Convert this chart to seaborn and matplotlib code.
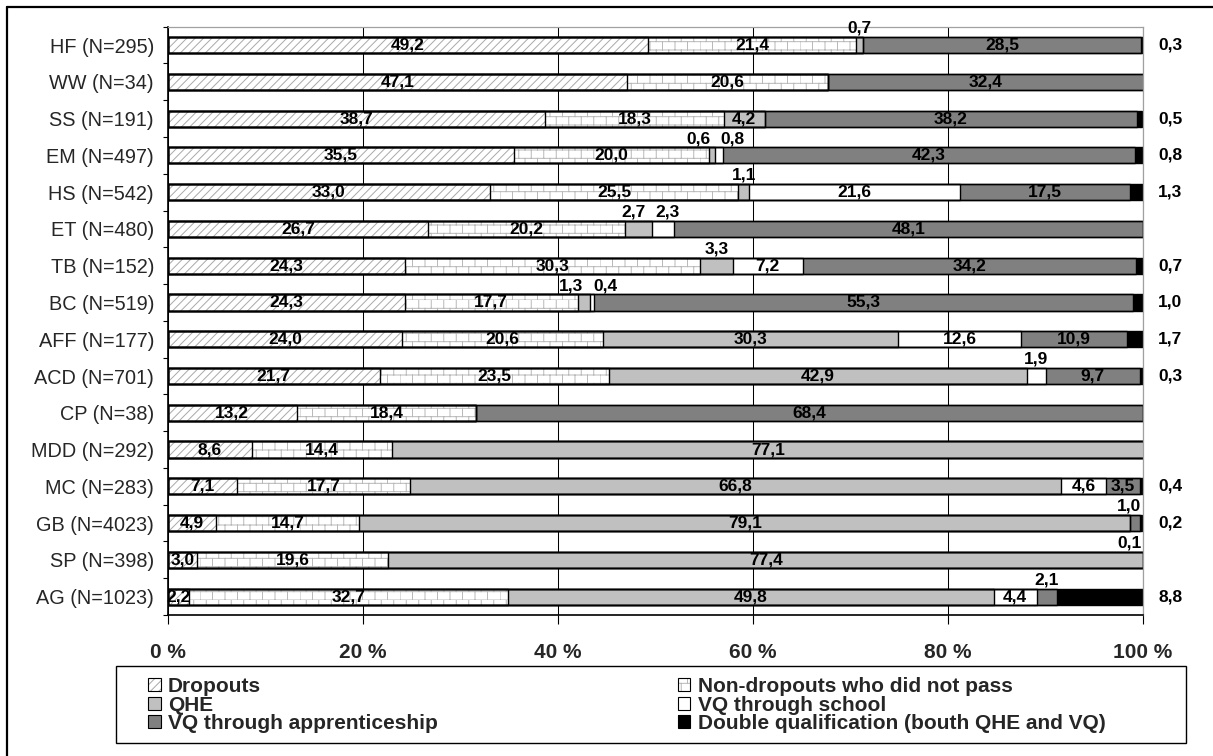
import numpy as np
import pandas as pd
import matplotlib
matplotlib.use("Agg")
import matplotlib.pyplot as plt
import matplotlib.hatch as mhatch
import matplotlib.transforms as mtransforms
from matplotlib.path import Path
from matplotlib.patches import Patch, Rectangle
from matplotlib.lines import Line2D
import seaborn as sns

# ---------------------------------------------------------------- data
groups = ["HF (N=295)", "WW (N=34)", "SS (N=191)", "EM (N=497)", "HS (N=542)",
          "ET (N=480)", "TB (N=152)", "BC (N=519)", "AFF (N=177)", "ACD (N=701)",
          "CP (N=38)", "MDD (N=292)", "MC (N=283)", "GB (N=4023)", "SP (N=398)",
          "AG (N=1023)"]

dropouts      = [49.2, 47.1, 38.7, 35.5, 33.0, 26.7, 24.3, 24.3, 24.0, 21.7, 13.2, 8.6, 7.1, 4.9, 3.0, 2.2]
not_passed    = [21.4, 20.6, 18.3, 20.0, 25.5, 20.2, 30.3, 17.7, 20.6, 23.5, 18.4, 14.4, 17.7, 14.7, 19.6, 32.7]
qhe           = [0.7, 0.0, 4.2, 0.6, 1.1, 2.7, 3.3, 1.3, 30.3, 42.9, 0.0, 77.1, 66.8, 79.1, 77.4, 49.8]
vq_school     = [0.0, 0.0, 0.0, 0.8, 21.6, 2.3, 7.2, 0.4, 12.6, 1.9, 0.0, 0.0, 4.6, 0.0, 0.0, 4.4]
vq_apprentice = [28.5, 32.4, 38.2, 42.3, 17.5, 48.1, 34.2, 55.3, 10.9, 9.7, 68.4, 0.0, 3.5, 1.0, 0.1, 2.1]
double_qual   = [0.3, 0.0, 0.5, 0.8, 1.3, 0.0, 0.7, 1.0, 1.7, 0.3, 0.0, 0.0, 0.4, 0.2, 0.0, 8.8]

series_names = ["Dropouts", "Non-dropouts who did not pass", "QHE", "VQ through school",
                "VQ through apprenticeship", "Double qualification (bouth QHE and VQ)"]
x_ticks = [0, 20, 40, 60, 80, 100]


# ------------------------------------------------- running-bond brick hatch
class BrickHatch(mhatch.HatchPatternBase):
    """Brick wall hatch, selected with the '*' hatch character."""

    def __init__(self, hatch, density):
        n = hatch.count('*')
        self.rows = 12 * n
        self.cols = 8
        self.num_vertices = 2 * self.rows * (self.cols + 1)

    def set_vertices_and_codes(self, vertices, codes):
        k = 0
        for i in range(self.rows):
            y0 = i / self.rows
            y1 = (i + 1) / self.rows
            vertices[k] = (0.0, y0)
            vertices[k + 1] = (1.0, y0)
            k += 2
            off = 0.5 / self.cols if i % 2 else 0.0
            for j in range(self.cols):
                x = j / self.cols + off
                vertices[k] = (x, y0)
                vertices[k + 1] = (x, y1)
                k += 2
        codes[0::2] = Path.MOVETO
        codes[1::2] = Path.LINETO


mhatch._hatch_types = [t for t in mhatch._hatch_types if t is not mhatch.Stars] + [BrickHatch]

# ---------------------------------------------------------------- style
sns.set_theme(style="white")
plt.rcParams["font.family"] = ["Liberation Sans", "DejaVu Sans"]
plt.rcParams["hatch.linewidth"] = 0.7

W, H = 1213, 756
fig = plt.figure(figsize=(W / 100, H / 100), dpi=100)
fig.patch.set_facecolor("white")
ax = fig.add_axes([168 / W, 1 - 615 / H, (1143 - 168) / W, (615 - 26.7) / H])

BAR_W = 0.44
HATCH_GREY = "#a9a9a9"
styles = [  # facecolor, hatch, hatch colour
    ("white", "////", HATCH_GREY),
    ("white", "*", "#b8b8b8"),
    ("#c0c0c0", None, "#c0c0c0"),
    ("white", None, "white"),
    ("#808080", None, "#808080"),
    ("black", None, "black"),
]

layers = np.array([dropouts, not_passed, qhe, vq_school, vq_apprentice, double_qual])
cum = np.cumsum(layers, axis=0)
df = pd.DataFrame({"group": groups})

# filled segments: cumulative bars, longest first, so each shorter one covers the rest
for k in reversed(range(len(layers))):
    face, hatch, hcol = styles[k]
    df["end"] = cum[k]
    sns.barplot(data=df, x="end", y="group", orient="h", color=face, saturation=1,
                width=BAR_W, errorbar=None, ax=ax)
    for bar in ax.containers[-1]:
        bar.set_facecolor(face)
        bar.set_hatch(hatch)
        bar.set_edgecolor(hcol)
        bar.set_linewidth(0)

# black outlines of every segment
for k in range(len(layers)):
    df["end"] = cum[k]
    sns.barplot(data=df, x="end", y="group", orient="h", color="black", fill=False,
                width=BAR_W, errorbar=None, linewidth=1.0, ax=ax)

# ---------------------------------------------------------------- value labels
lab_kw = dict(fontsize=12.5, fontweight="bold", color="black", zorder=5)
right_tf = mtransforms.blended_transform_factory(ax.transAxes, ax.transData)


def fmt(v):
    return f"{v:.1f}".replace(".", ",")


for i in range(len(groups)):
    above = []
    for k in range(len(layers)):
        v = layers[k][i]
        if v <= 0:
            continue
        mid = cum[k][i] - v / 2
        if k == 5:
            ax.text(1.0154, i, fmt(v), transform=right_tf, ha="left", va="center", **lab_kw)
        elif k >= 2 and v < 3.4:
            above.append([mid, fmt(v)])
        else:
            ax.text(mid, i, fmt(v), ha="center", va="center", **lab_kw)
    for a, b in zip(above, above[1:]):
        if b[0] - a[0] < 3.4:
            c = (a[0] + b[0]) / 2
            a[0], b[0] = c - 1.75, c + 1.75
    for x, t in above:
        ax.text(min(x, 98.6), i - BAR_W / 2 - 0.03, t, ha="center", va="bottom", **lab_kw)

# ---------------------------------------------------------------- axes
ax.set_xlim(0, 100)
ax.set_ylim(len(groups) - 0.5, -0.5)
ax.set_xlabel("")
ax.set_ylabel("")
ax.set_xticks(x_ticks, labels=[f"{t} %" for t in x_ticks])
for lab in ax.get_xticklabels():
    lab.set_fontweight("bold")
    lab.set_fontsize(15)
ax.tick_params(axis="x", direction="out", length=6.5, width=0.8, color="black",
               pad=14, bottom=True)
ax.set_yticks(range(len(groups)), labels=groups)
ax.set_yticks(np.arange(-0.5, len(groups), 1.0), minor=True)
ax.tick_params(axis="y", which="major", length=0, labelsize=14.3, pad=10, left=False)
ax.tick_params(axis="y", which="minor", direction="out", length=3.6, width=0.8,
               color="black", left=True)

ax.grid(axis="x", color="black", linewidth=0.75)
ax.grid(axis="y", visible=False)
ax.set_axisbelow(True)
for side in ("left", "bottom"):
    ax.spines[side].set_color("black")
    ax.spines[side].set_linewidth(1.2)
for side in ("right", "top"):
    ax.spines[side].set_color("#a0a0a0")
    ax.spines[side].set_linewidth(0.9)

# ---------------------------------------------------------------- legend
def handle(k):
    face, hatch, hcol = styles[k]
    return (Patch(facecolor=face, edgecolor=hcol, hatch=hatch, linewidth=0),
            Patch(facecolor="none", edgecolor="black", linewidth=0.8))


leg_kw = dict(loc="upper left", frameon=False, borderpad=0, borderaxespad=0,
              handlelength=0.6, handleheight=0.6, handletextpad=0.35,
              labelspacing=-0.02, prop=dict(weight="bold", size=15),
              bbox_transform=fig.transFigure)
fig.legend([handle(k) for k in (0, 2, 4)], [series_names[k] for k in (0, 2, 4)],
           bbox_to_anchor=(148 / W, 1 - 677 / H), **leg_kw)
fig.legend([handle(k) for k in (1, 3, 5)], [series_names[k] for k in (1, 3, 5)],
           bbox_to_anchor=(678 / W, 1 - 677 / H), **leg_kw)
fig.add_artist(Rectangle((116 / W, 1 - 743 / H), 1070 / W, 77 / H, transform=fig.transFigure,
                         fill=False, edgecolor="black", linewidth=1.0))

# outer frame
fig.add_artist(Line2D([7 / W, 1], [1 - 7 / H, 1 - 7 / H], transform=fig.transFigure,
                      color="black", linewidth=1.6))
fig.add_artist(Line2D([7 / W, 7 / W], [1 - 7 / H, 0], transform=fig.transFigure,
                      color="black", linewidth=1.6))

fig.savefig("out.png", dpi=100)
